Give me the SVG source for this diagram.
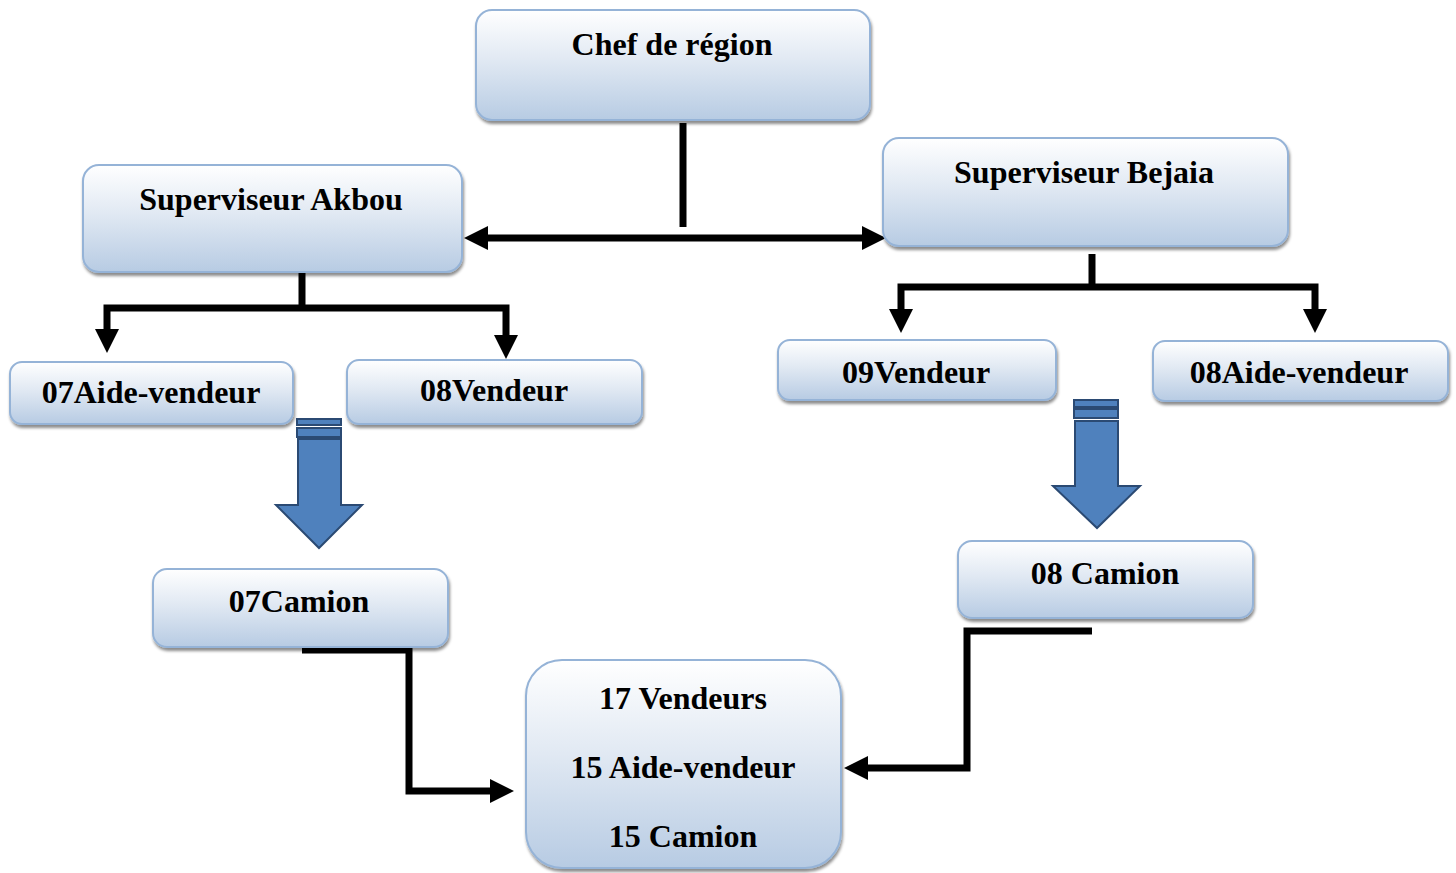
<svg xmlns="http://www.w3.org/2000/svg" width="1456" height="873" viewBox="0 0 1456 873">
  <defs>
    <linearGradient id="boxFill" x1="0" y1="0" x2="0" y2="1">
      <stop offset="0" stop-color="#FFFFFF"/>
      <stop offset="0.45" stop-color="#E1E9F3"/>
      <stop offset="1" stop-color="#B7CBE3"/>
    </linearGradient>
    <filter id="shadow" x="-5%" y="-10%" width="110%" height="125%">
      <feDropShadow dx="1" dy="3" stdDeviation="1.8" flood-color="#000" flood-opacity="0.45"/>
    </filter>
    <marker id="head" viewBox="0 0 24 24" markerUnits="userSpaceOnUse" markerWidth="24" markerHeight="24" refX="1" refY="12" orient="auto-start-reverse">
      <path d="M0,0 L24,12 L0,24 Z" fill="#000"/>
    </marker>
  </defs>
  <style>
    .box { fill: url(#boxFill); stroke: #95B3D7; stroke-width: 2; filter: url(#shadow); }
    .label { font-family: "Liberation Serif", "Times New Roman", serif; font-weight: bold; font-size: 32px; fill: #000; text-anchor: middle; }
    .wire { fill: none; stroke: #000; stroke-width: 7; stroke-linejoin: miter; }
    .block { fill: #4F81BD; stroke: #2B4A73; stroke-width: 2; }
  </style>
  <rect width="1456" height="873" fill="#FFFFFF"/>

  <g id="connectors">
    <path class="wire" d="M683,123 V227"/>
    <path class="wire" d="M487,238 H863" marker-start="url(#head)" marker-end="url(#head)"/>
    <path class="wire" d="M302,273 V308"/>
    <path class="wire" d="M107,330 V308 H506 V336" marker-start="url(#head)" marker-end="url(#head)"/>
    <path class="wire" d="M1092,254 V287"/>
    <path class="wire" d="M901,310 V287 H1315 V310" marker-start="url(#head)" marker-end="url(#head)"/>
    <path class="wire" d="M302,650 H409 V791 H491" marker-end="url(#head)"/>
    <path class="wire" d="M1092,631 H967 V768 H867" marker-end="url(#head)"/>
    <!-- block arrows down to the truck boxes -->
    <g id="block-left">
      <rect class="block" x="297" y="419" width="44" height="6"/>
      <rect class="block" x="297" y="428" width="44" height="9"/>
      <path class="block" d="M298,439 H341 V505 H362 L319,548 L276,505 H298 Z"/>
    </g>
    <g id="block-right">
      <rect class="block" x="1074" y="400" width="44" height="7"/>
      <rect class="block" x="1074" y="409" width="44" height="9"/>
      <path class="block" d="M1075,421 H1118 V486 H1140 L1097,528 L1053,486 H1075 Z"/>
    </g>
  </g>

  <g id="chef">
    <rect class="box" x="476" y="10" width="394" height="110" rx="16"/>
    <text class="label" x="672" y="55">Chef de région</text>
  </g>
  <g id="sup-akbou">
    <rect class="box" x="83" y="165" width="379" height="107" rx="16"/>
    <text class="label" x="271" y="210">Superviseur Akbou</text>
  </g>
  <g id="sup-bejaia">
    <rect class="box" x="883" y="138" width="405" height="108" rx="16"/>
    <text class="label" x="1084" y="183">Superviseur Bejaia</text>
  </g>
  <g id="akbou-aide">
    <rect class="box" x="10" y="362" width="283" height="62" rx="12"/>
    <text class="label" x="151" y="403">07Aide-vendeur</text>
  </g>
  <g id="akbou-vendeur">
    <rect class="box" x="347" y="360" width="295" height="64" rx="12"/>
    <text class="label" x="494" y="401">08Vendeur</text>
  </g>
  <g id="bejaia-vendeur">
    <rect class="box" x="778" y="340" width="278" height="60" rx="12"/>
    <text class="label" x="916" y="383">09Vendeur</text>
  </g>
  <g id="bejaia-aide">
    <rect class="box" x="1153" y="341" width="295" height="60" rx="12"/>
    <text class="label" x="1299" y="383">08Aide-vendeur</text>
  </g>
  <g id="akbou-camion">
    <rect class="box" x="153" y="569" width="295" height="78" rx="14"/>
    <text class="label" x="299" y="612">07Camion</text>
  </g>
  <g id="bejaia-camion">
    <rect class="box" x="958" y="541" width="295" height="77" rx="14"/>
    <text class="label" x="1105" y="584">08 Camion</text>
  </g>
  <g id="total">
    <rect class="box" x="526" y="660" width="315" height="208" rx="36"/>
    <text class="label" x="683" y="709">17 Vendeurs</text>
    <text class="label" x="683" y="778">15 Aide-vendeur</text>
    <text class="label" x="683" y="847">15 Camion</text>
  </g>
</svg>
